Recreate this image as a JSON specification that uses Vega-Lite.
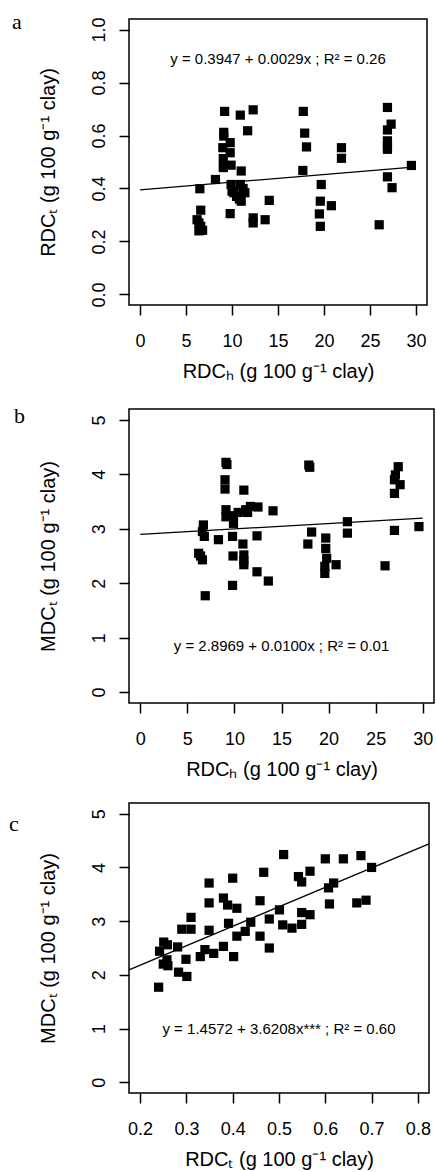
{
  "$schema": "https://vega.github.io/schema/vega-lite/v6.json",
  "background": "white",
  "padding": {"left": 8, "top": 10, "right": 2, "bottom": 0},
  "spacing": 22,
  "config": {
    "view": {"stroke": "black", "strokeWidth": 1.5},
    "axis": {
      "grid": false, "domain": false,
      "tickColor": "black", "tickSize": 10, "tickWidth": 1.5,
      "labelFont": "Liberation Sans", "labelFontSize": 18, "labelColor": "black",
      "labelOverlap": false, "labelFlush": false,
      "titleFont": "Liberation Sans", "titleFontSize": 20, "titleFontWeight": "normal", "titleColor": "black"
    },
    "axisX": {"labelBaseline": "alphabetic", "labelPadding": 31, "titleBaseline": "alphabetic", "titlePadding": 27},
    "axisY": {"labelAngle": -90, "labelAlign": "center", "labelBaseline": "alphabetic", "labelPadding": 15, "titleBaseline": "alphabetic", "titlePadding": 36},
    "title": {"font": "Liberation Serif", "fontSize": 22, "fontWeight": "normal", "color": "black", "anchor": "start", "frame": "group", "baseline": "alphabetic", "offset": 0}
  },
  "datasets": {
    "pa": [
      {"h": 6.5, "t": 0.399}, {"h": 8.2, "t": 0.434}, {"h": 9.2, "t": 0.691}, {"h": 9.1, "t": 0.612},
      {"h": 9.1, "t": 0.598}, {"h": 9.0, "t": 0.554}, {"h": 9.05, "t": 0.513}, {"h": 9.05, "t": 0.479},
      {"h": 9.8, "t": 0.573}, {"h": 9.8, "t": 0.535}, {"h": 9.9, "t": 0.488}, {"h": 11.0, "t": 0.466},
      {"h": 10.9, "t": 0.677}, {"h": 12.3, "t": 0.697}, {"h": 11.7, "t": 0.618}, {"h": 9.9, "t": 0.415},
      {"h": 10.9, "t": 0.415}, {"h": 10.2, "t": 0.384}, {"h": 11.4, "t": 0.384}, {"h": 14.05, "t": 0.355},
      {"h": 17.75, "t": 0.691}, {"h": 17.9, "t": 0.609}, {"h": 18.1, "t": 0.557}, {"h": 17.7, "t": 0.468},
      {"h": 19.7, "t": 0.415}, {"h": 19.6, "t": 0.352}, {"h": 21.9, "t": 0.554}, {"h": 21.9, "t": 0.514},
      {"h": 26.9, "t": 0.706}, {"h": 27.3, "t": 0.643}, {"h": 26.9, "t": 0.621}, {"h": 26.9, "t": 0.58},
      {"h": 26.9, "t": 0.561}, {"h": 26.9, "t": 0.548}, {"h": 29.5, "t": 0.487}, {"h": 26.9, "t": 0.444},
      {"h": 27.4, "t": 0.403}, {"h": 6.6, "t": 0.318}, {"h": 6.2, "t": 0.282}, {"h": 6.4, "t": 0.27},
      {"h": 6.6, "t": 0.257}, {"h": 6.8, "t": 0.242}, {"h": 6.4, "t": 0.24}, {"h": 9.8, "t": 0.305},
      {"h": 11.0, "t": 0.352}, {"h": 12.3, "t": 0.289}, {"h": 12.3, "t": 0.27}, {"h": 13.6, "t": 0.282},
      {"h": 19.5, "t": 0.304}, {"h": 19.6, "t": 0.257}, {"h": 20.8, "t": 0.335}, {"h": 26.0, "t": 0.263},
      {"h": 10.5, "t": 0.37}, {"h": 11.2, "t": 0.4}, {"h": 10.0, "t": 0.39}, {"h": 10.8, "t": 0.36}
    ],
    "pb": [
      {"h": 9.1, "m": 4.22}, {"h": 9.2, "m": 4.18}, {"h": 9.0, "m": 3.90}, {"h": 9.0, "m": 3.73},
      {"h": 11.0, "m": 3.71}, {"h": 9.1, "m": 3.35}, {"h": 9.1, "m": 3.22}, {"h": 9.9, "m": 3.24},
      {"h": 9.9, "m": 3.10}, {"h": 11.2, "m": 3.35}, {"h": 11.7, "m": 3.41}, {"h": 12.5, "m": 3.40},
      {"h": 11.4, "m": 3.30}, {"h": 14.1, "m": 3.33}, {"h": 17.9, "m": 4.17}, {"h": 18.0, "m": 4.13},
      {"h": 27.4, "m": 4.14}, {"h": 27.1, "m": 3.99}, {"h": 27.0, "m": 3.90}, {"h": 27.6, "m": 3.81},
      {"h": 27.0, "m": 3.65}, {"h": 27.0, "m": 2.97}, {"h": 29.6, "m": 3.04}, {"h": 22.0, "m": 3.13},
      {"h": 22.0, "m": 2.92}, {"h": 18.2, "m": 2.94}, {"h": 17.8, "m": 2.72}, {"h": 19.7, "m": 2.83},
      {"h": 19.7, "m": 2.64}, {"h": 19.8, "m": 2.46}, {"h": 20.8, "m": 2.34}, {"h": 26.0, "m": 2.32},
      {"h": 6.7, "m": 3.07}, {"h": 6.6, "m": 2.95}, {"h": 6.8, "m": 2.86}, {"h": 6.2, "m": 2.55},
      {"h": 6.6, "m": 2.43}, {"h": 8.3, "m": 2.80}, {"h": 9.8, "m": 2.86}, {"h": 12.4, "m": 2.87},
      {"h": 10.9, "m": 2.72}, {"h": 9.85, "m": 2.50}, {"h": 11.0, "m": 2.52}, {"h": 11.0, "m": 2.41},
      {"h": 11.0, "m": 2.34}, {"h": 12.4, "m": 2.21}, {"h": 13.6, "m": 2.04}, {"h": 9.8, "m": 1.96},
      {"h": 6.9, "m": 1.77}, {"h": 19.6, "m": 2.31}, {"h": 19.6, "m": 2.18}, {"h": 6.4, "m": 2.5},
      {"h": 10.4, "m": 3.3}
    ],
    "pc": [
      {"t": 0.51, "m": 4.24}, {"t": 0.60, "m": 4.16}, {"t": 0.639, "m": 4.16}, {"t": 0.677, "m": 4.22},
      {"t": 0.70, "m": 4.0}, {"t": 0.467, "m": 3.91}, {"t": 0.567, "m": 3.93}, {"t": 0.542, "m": 3.83},
      {"t": 0.549, "m": 3.73}, {"t": 0.618, "m": 3.71}, {"t": 0.607, "m": 3.62}, {"t": 0.349, "m": 3.71},
      {"t": 0.40, "m": 3.80}, {"t": 0.349, "m": 3.34}, {"t": 0.38, "m": 3.43}, {"t": 0.389, "m": 3.30},
      {"t": 0.409, "m": 3.24}, {"t": 0.459, "m": 3.38}, {"t": 0.609, "m": 3.32}, {"t": 0.668, "m": 3.34},
      {"t": 0.688, "m": 3.39}, {"t": 0.501, "m": 3.21}, {"t": 0.479, "m": 3.04}, {"t": 0.549, "m": 3.16},
      {"t": 0.567, "m": 3.12}, {"t": 0.31, "m": 3.07}, {"t": 0.439, "m": 2.98}, {"t": 0.391, "m": 2.96},
      {"t": 0.508, "m": 2.93}, {"t": 0.528, "m": 2.87}, {"t": 0.549, "m": 2.94}, {"t": 0.29, "m": 2.85},
      {"t": 0.31, "m": 2.85}, {"t": 0.349, "m": 2.83}, {"t": 0.427, "m": 2.81}, {"t": 0.409, "m": 2.72},
      {"t": 0.459, "m": 2.72}, {"t": 0.479, "m": 2.50}, {"t": 0.38, "m": 2.53}, {"t": 0.251, "m": 2.61},
      {"t": 0.259, "m": 2.56}, {"t": 0.281, "m": 2.52}, {"t": 0.242, "m": 2.44}, {"t": 0.34, "m": 2.47},
      {"t": 0.359, "m": 2.40}, {"t": 0.33, "m": 2.34}, {"t": 0.402, "m": 2.34}, {"t": 0.299, "m": 2.29},
      {"t": 0.258, "m": 2.28}, {"t": 0.25, "m": 2.20}, {"t": 0.283, "m": 2.05}, {"t": 0.301, "m": 1.97},
      {"t": 0.24, "m": 1.77}, {"t": 0.26, "m": 2.17}
    ],
    "fa": [{"x": 0, "y": 0.3947}, {"x": 30, "y": 0.4817}],
    "fb": [{"x": 0, "y": 2.8969}, {"x": 30, "y": 3.1969}],
    "fc": [{"x": 0.176, "y": 2.0945}, {"x": 0.824, "y": 4.4407}],
    "ea": [{"eq": "y = 0.3947 + 0.0029x ; R² = 0.26"}],
    "eb": [{"eq": "y = 2.8969 + 0.0100x ; R² = 0.01"}],
    "ec": [{"eq": "y = 1.4572 + 3.6208x*** ; R² = 0.60"}]
  },
  "vconcat": [
    {
      "width": 298, "height": 286,
      "title": {"text": "a", "dx": -117, "dy": 21},
      "layer": [
        {
          "data": {"name": "pa"},
          "mark": {"type": "point", "shape": "square", "filled": true, "color": "black", "size": 85, "opacity": 1},
          "encoding": {
            "x": {"field": "h", "type": "quantitative", "scale": {"domain": [-1.2, 31.2], "nice": false, "zero": false},
                  "axis": {"values": [0, 5, 10, 15, 20, 25, 30], "title": "RDCₕ (g 100 g⁻¹ clay)"}},
            "y": {"field": "t", "type": "quantitative", "scale": {"domain": [-0.04, 1.04], "nice": false, "zero": false},
                  "axis": {"values": [0, 0.2, 0.4, 0.6, 0.8, 1.0], "format": ".1f", "title": "RDCₜ (g 100 g⁻¹ clay)"}}
          }
        },
        {
          "data": {"name": "fa"},
          "mark": {"type": "line", "color": "black", "strokeWidth": 1.3},
          "encoding": {"x": {"field": "x", "type": "quantitative"}, "y": {"field": "y", "type": "quantitative"}}
        },
        {
          "data": {"name": "ea"},
          "mark": {"type": "text", "font": "Liberation Sans", "fontSize": 15, "color": "black", "align": "center", "baseline": "middle"},
          "encoding": {"x": {"datum": 15}, "y": {"datum": 0.89}, "text": {"field": "eq"}}
        }
      ]
    },
    {
      "width": 305, "height": 294,
      "title": {"text": "b", "dx": -115, "dy": 23},
      "layer": [
        {
          "data": {"name": "pb"},
          "mark": {"type": "point", "shape": "square", "filled": true, "color": "black", "size": 85, "opacity": 1},
          "encoding": {
            "x": {"field": "h", "type": "quantitative", "scale": {"domain": [-1.2, 31.2], "nice": false, "zero": false},
                  "axis": {"values": [0, 5, 10, 15, 20, 25, 30], "title": "RDCₕ (g 100 g⁻¹ clay)"}},
            "y": {"field": "m", "type": "quantitative", "scale": {"domain": [-0.2, 5.2], "nice": false, "zero": false},
                  "axis": {"values": [0, 1, 2, 3, 4, 5], "format": "d", "title": "MDCₜ (g 100 g⁻¹ clay)"}}
          }
        },
        {
          "data": {"name": "fb"},
          "mark": {"type": "line", "color": "black", "strokeWidth": 1.3},
          "encoding": {"x": {"field": "x", "type": "quantitative"}, "y": {"field": "y", "type": "quantitative"}}
        },
        {
          "data": {"name": "eb"},
          "mark": {"type": "text", "font": "Liberation Sans", "fontSize": 15, "color": "black", "align": "center", "baseline": "middle"},
          "encoding": {"x": {"datum": 15}, "y": {"datum": 0.85}, "text": {"field": "eq"}}
        }
      ]
    },
    {
      "width": 300, "height": 290,
      "title": {"text": "c", "dx": -120, "dy": 37},
      "layer": [
        {
          "data": {"name": "pc"},
          "mark": {"type": "point", "shape": "square", "filled": true, "color": "black", "size": 85, "opacity": 1},
          "encoding": {
            "x": {"field": "t", "type": "quantitative", "scale": {"domain": [0.176, 0.824], "nice": false, "zero": false},
                  "axis": {"values": [0.2, 0.3, 0.4, 0.5, 0.6, 0.7, 0.8], "format": ".1f", "title": "RDCₜ (g 100 g⁻¹ clay)"}},
            "y": {"field": "m", "type": "quantitative", "scale": {"domain": [-0.2, 5.2], "nice": false, "zero": false},
                  "axis": {"values": [0, 1, 2, 3, 4, 5], "format": "d", "title": "MDCₜ (g 100 g⁻¹ clay)"}}
          }
        },
        {
          "data": {"name": "fc"},
          "mark": {"type": "line", "color": "black", "strokeWidth": 1.3},
          "encoding": {"x": {"field": "x", "type": "quantitative"}, "y": {"field": "y", "type": "quantitative"}}
        },
        {
          "data": {"name": "ec"},
          "mark": {"type": "text", "font": "Liberation Sans", "fontSize": 15, "color": "black", "align": "center", "baseline": "middle"},
          "encoding": {"x": {"datum": 0.5}, "y": {"datum": 0.99}, "text": {"field": "eq"}}
        }
      ]
    }
  ]
}
